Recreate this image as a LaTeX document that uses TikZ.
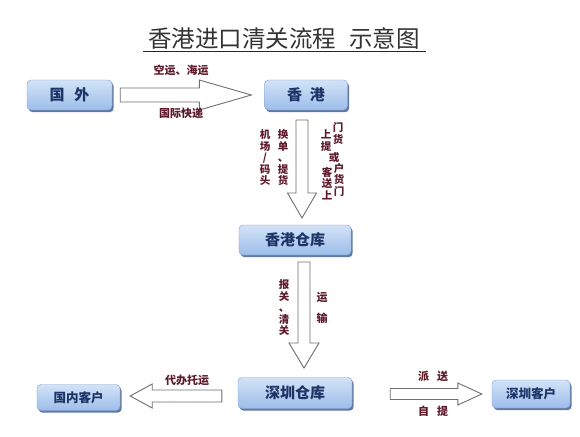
\documentclass[tikz,border=0pt]{standalone}
\usepackage{fontspec}
\setmainfont{Noto Sans CJK SC}
\usetikzlibrary{calc,shadows}
\definecolor{boxtop}{HTML}{D3E3F7}
\definecolor{boxbot}{HTML}{9CBDEA}
\definecolor{boxedge}{HTML}{7F9FCF}
\definecolor{shadowc}{HTML}{2E4C85}
\definecolor{boxtext}{HTML}{1C3466}
\definecolor{labc}{HTML}{5E1A2A}
\definecolor{arrc}{HTML}{707070}
\newcommand\blockarr[5]{%
  \coordinate (tmpH) at ($(#2)!#5!(#1)$);
  \draw[blockarrow]
    ($(#1)!#3!90:(#2)$) -- ($(tmpH)!#3!90:(#2)$) -- ($(tmpH)!#4!90:(#2)$) --
    (#2) -- ($(tmpH)!#4!-90:(#2)$) -- ($(tmpH)!#3!-90:(#2)$) --
    ($(#1)!#3!-90:(#2)$) -- cycle;}
\begin{document}
\begin{tikzpicture}[x=1pt,y=-1pt,
  box/.style={rounded corners=4pt, top color=boxtop, bottom color=boxbot,
    draw=boxedge, line width=0.4pt,
    drop shadow={shadow xshift=1.6pt,shadow yshift=-2.2pt,fill=shadowc,opacity=0.75},
    text=boxtext, inner sep=0pt},
  blockarrow/.style={draw=arrc, fill=white, line width=0.9pt, line join=miter},
  lab/.style={text=labc, inner sep=0pt, font=\fontsize{11}{11.5}\selectfont\bfseries, align=center},
  vlab/.style={lab, font=\fontsize{10.5}{11.5}\selectfont\bfseries}]
\useasboundingbox (0,0) rectangle (580,436);
\fill[white] (0,0) rectangle (580,436);
% title
\node[text=black!80, font=\fontsize{23.5}{26}\selectfont, inner sep=0pt] (title) at (284,38) {香港进口清关流程\hspace{13pt}示意图};
\draw[black!85, line width=1pt] (143,52) -- (426,52);
% boxes
\node[box, minimum width=85pt, minimum height=30pt, font=\fontsize{15}{15}\selectfont\bfseries] (gw) at (69.5,95) {国\hspace{10pt}外};
\node[box, minimum width=83pt, minimum height=30pt, font=\fontsize{15}{15}\selectfont\bfseries] (hk) at (306,95) {香\hspace{8pt}港};
\node[box, minimum width=112pt, minimum height=30pt, font=\fontsize{15}{15}\selectfont\bfseries] (hkw) at (295,240) {香港仓库};
\node[box, minimum width=114pt, minimum height=31pt, font=\fontsize{15}{15}\selectfont\bfseries] (szw) at (295,393) {深圳仓库};
\node[box, minimum width=83pt, minimum height=26pt, font=\fontsize{12.5}{12.5}\selectfont\bfseries] (gn) at (78.5,397.5) {国内客户};
\node[box, minimum width=78pt, minimum height=28pt, font=\fontsize{12.5}{12.5}\selectfont\bfseries] (szc) at (531,394) {深圳客户};
% arrow end points
\coordinate (a1s) at ($(gw.east)+(8,0)$);
\coordinate (a1e) at ($(hk.west)+(-13,0)$);
\coordinate (a2s) at (302,120);
\coordinate (a2e) at (302,218);
\coordinate (a3s) at (304,262);
\coordinate (a3e) at (304,368);
\coordinate (a4s) at ($(szw.west)+(-16,3)$);
\coordinate (a4e) at ($(gn.east)+(10,-1.5)$);
\coordinate (a5s) at ($(szw.east)+(38,1)$);
\coordinate (a5e) at ($(szc.west)+(-10,0)$);
\blockarr{a1s}{a1e}{7pt}{15pt}{52pt}
\blockarr{a2s}{a2e}{6pt}{14.5pt}{25pt}
\blockarr{a3s}{a3e}{6pt}{15pt}{25pt}
\blockarr{a4s}{a4e}{6pt}{12pt}{22pt}
\blockarr{a5s}{a5e}{5.5pt}{11pt}{24pt}
% labels
\node[lab] (l1) at (181,70) {空运、海运};
\node[lab] (l2) at (181,113) {国际快递};
\node[vlab] (l3) at (265,158) {机\\场\\/\\码\\头};
\node[vlab] (l4) at (283,158) {换\\单\\、\\提\\货};
\node[vlab] (l5) at (326,140.5) {上\\提};
\node[vlab] (l6) at (338,133.5) {门\\货};
\node[vlab] (l7) at (334,158) {或};
\node[vlab] (l8) at (327,183.5) {客\\送\\上};
\node[vlab] (l9) at (339,179.5) {户\\货\\门};
\node[vlab] (l10) at (284,308) {报\\关\\、\\清\\关};
\node[lab] (l11) at (322,298) {运};
\node[lab] (l12) at (322,318) {输};
\node[lab] (l13) at (187,380) {代办托运};
\node[lab] (l14) at (433,376) {派\hspace{8pt}送};
\node[lab] (l15) at (433,411) {自\hspace{8pt}提};
\end{tikzpicture}
\end{document}
